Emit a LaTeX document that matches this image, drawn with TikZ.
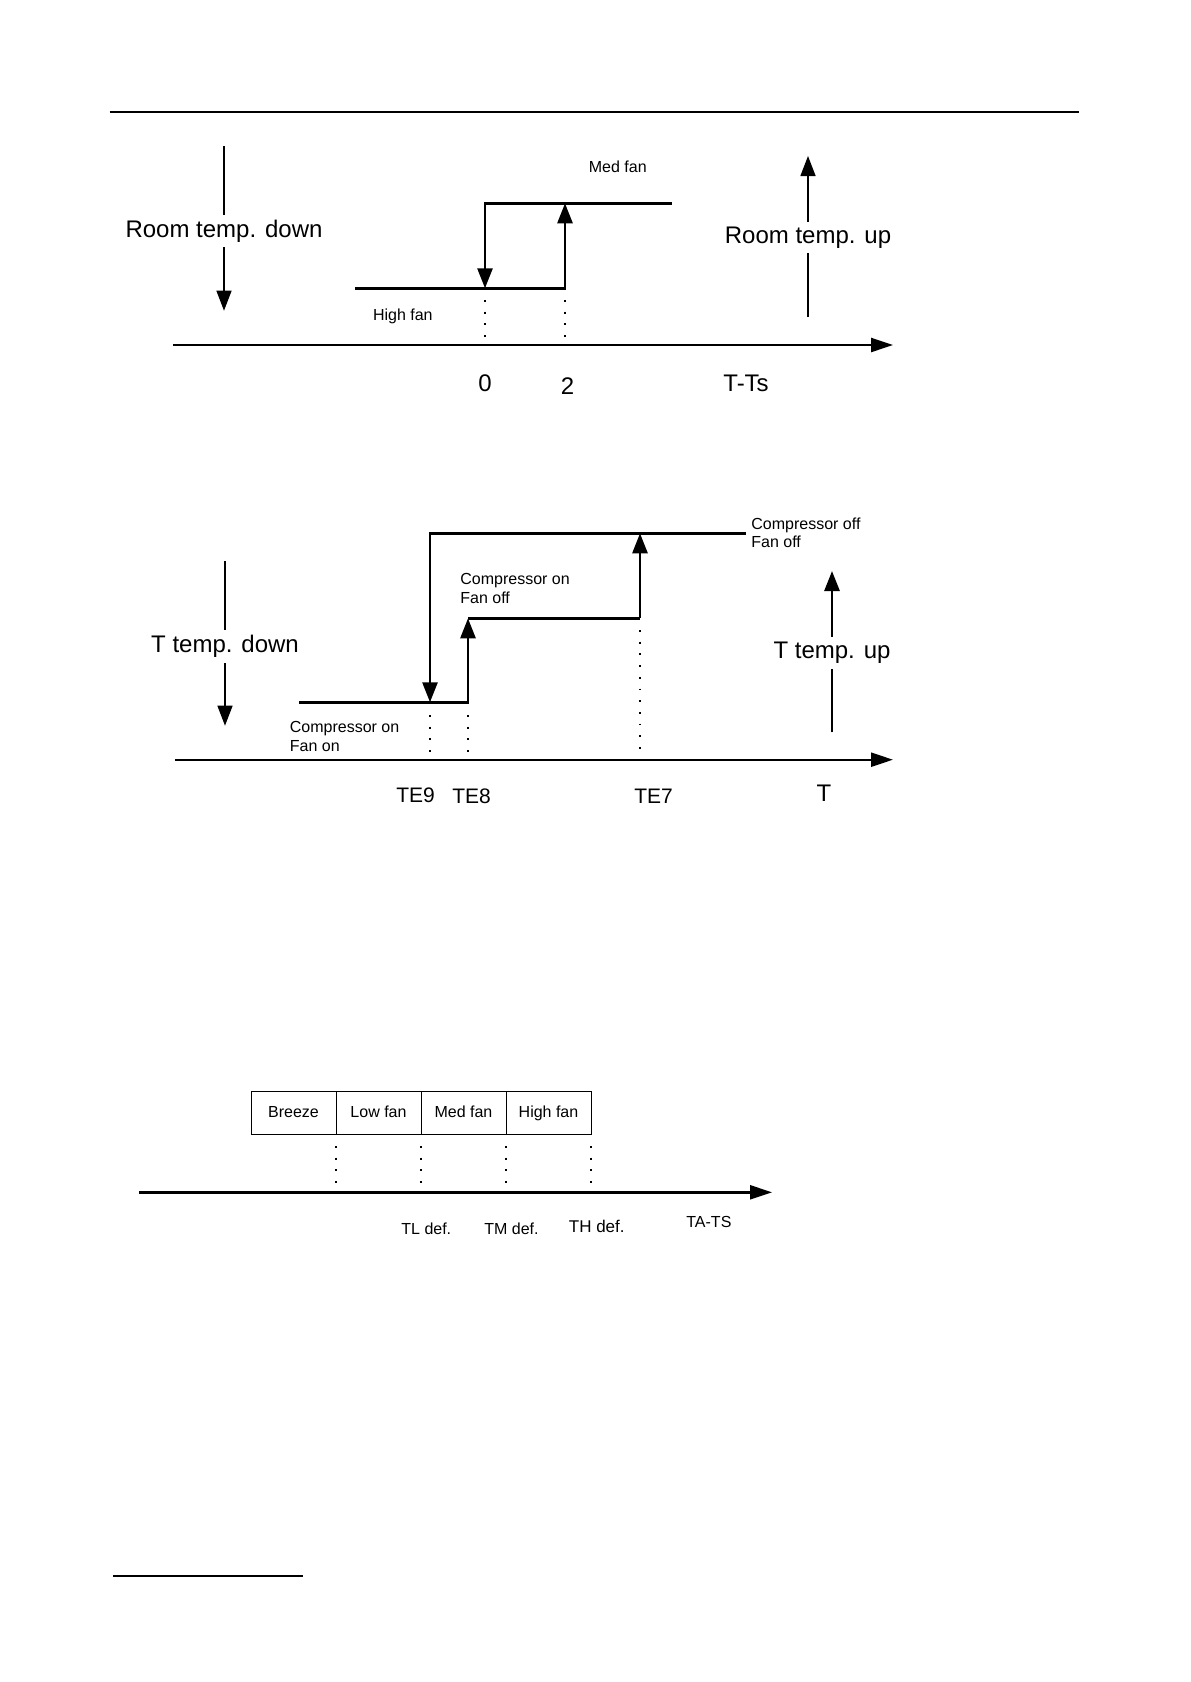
\documentclass[tikz,border=0pt]{standalone}
\usepackage{fontspec}
\setmainfont{Liberation Sans}
\usetikzlibrary{arrows.meta}
\begin{document}
\begin{tikzpicture}[x=0.5pt,y=-0.5pt,
  rule/.style={line width=1pt},
  stepline/.style={line width=1.3pt,line join=miter,-{Triangle[length=10pt,width=7.5pt]}},
  axisline/.style={line width=1.2pt,-{Triangle[length=11pt,width=7pt]}},
  thinarrow/.style={line width=0.7pt,-{Triangle[length=10pt,width=7.5pt]}},
  thickarrow/.style={line width=1.4pt,-{Triangle[length=10pt,width=7.5pt]}},
  dotline/.style={line width=1pt,dash pattern=on 0.9pt off 4.95pt},
  biglabel/.style={font=\fontsize{12}{14}\selectfont,fill=white,inner xsep=0pt,inner ysep=2.5pt},
  midlabel/.style={font=\fontsize{10.5}{12}\selectfont,inner sep=0pt},
  smalllabel/.style={font=\fontsize{8}{9.3}\selectfont,inner sep=0pt,align=left},
  fanbox/.style={draw,line width=0.5pt,minimum width=42.5pt,minimum height=21.5pt,inner sep=0pt,
    text height=6pt,text depth=1.6pt,font=\fontsize{8}{9.3}\selectfont}
]
\useasboundingbox (0,0) rectangle (1190,1682);

% rules
\coordinate (r1a) at (109.5,111.7);
\coordinate (r1b) at (1079,111.7);
\draw[rule] (r1a) -- (r1b);
\coordinate (r2a) at (113,1576);
\coordinate (r2b) at (303,1576);
\draw[rule] (r2a) -- (r2b);

% ---------------- Diagram 1 ----------------
\coordinate (d1ax0) at (173,345);
\coordinate (d1ax1) at (893,345);
\draw[axisline] (d1ax0) -- (d1ax1);

\coordinate (d1lowL) at (355,288.3);
\coordinate (d1lowR) at (565,288.3);
\coordinate (d1upL) at (485,203.3);
\coordinate (d1upR) at (672,203.3);
\coordinate (d1lowM) at (485,288.3);
\coordinate (d1upM) at (565,203.3);
\draw[stepline] (d1lowL) -- (d1lowR) -- (d1upM);
\draw[stepline] (d1upR) -- (d1upL) -- (d1lowM);

\draw[dotline] (485,300) -- (485,338);
\draw[dotline] (565,300) -- (565,338);

\coordinate (d1la) at (224,146);
\coordinate (d1lb) at (224,310.7);
\draw[thinarrow] (d1la) -- (d1lb);
\node[biglabel] (rtd) at (224,231) {Room temp. down};

\coordinate (d1ra) at (808,317);
\coordinate (d1rb) at (808,156);
\draw[thinarrow] (d1ra) -- (d1rb);
\node[biglabel] (rtu) at (808,237.5) {Room temp. up};

\node[smalllabel,anchor=west] (medfan) at (588.5,166.7) {Med fan};
\node[smalllabel,anchor=west] (highfan) at (372.6,316) {High fan};

\node[biglabel,fill=none] (n0) at (485,383) {0};
\node[biglabel,fill=none] (n2) at (567.6,386) {2};
\node[biglabel,fill=none,anchor=west] (tts) at (723,383) {T-Ts};

% ---------------- Diagram 2 ----------------
\coordinate (d2ax0) at (175,759.7);
\coordinate (d2ax1) at (893,759.7);
\draw[axisline] (d2ax0) -- (d2ax1);

\coordinate (d2topR) at (746,533.3);
\coordinate (d2topL) at (430,533.3);
\coordinate (d2te9) at (430,702.3);
\coordinate (d2lowL) at (299,702.3);
\coordinate (d2lowR) at (468,702.3);
\coordinate (d2midL) at (468,618.3);
\coordinate (d2midR) at (640,618.3);
\coordinate (d2te7) at (640,533.3);
\draw[stepline] (d2topR) -- (d2topL) -- (d2te9);
\draw[stepline] (d2lowL) -- (d2lowR) -- (d2midL);
\draw[stepline,-] (d2midL) -- (d2midR);
\draw[stepline] (d2midR) -- (d2te7);

\draw[dotline] (430,715) -- (430,753);
\draw[dotline] (468,715) -- (468,753);
\draw[dotline] (640,630) -- (640,753);

\coordinate (d2la) at (225,561);
\coordinate (d2lb) at (225,725.7);
\draw[thinarrow] (d2la) -- (d2lb);
\node[biglabel] (ttd) at (225,646.5) {T temp. down};

\coordinate (d2ra) at (832,732.3);
\coordinate (d2rb) at (832,571);
\draw[thickarrow] (d2ra) -- (d2rb);
\node[biglabel] (ttu) at (832,653) {T temp. up};

\node[smalllabel,anchor=west] (cofo) at (751,532.8) {Compressor off\\Fan off};
\node[smalllabel,anchor=west] (conf) at (460,588.2) {Compressor on\\Fan off};
\node[smalllabel,anchor=west] (conn) at (289.5,736.2) {Compressor on\\Fan on};

\node[midlabel,anchor=west] (te9) at (396,795) {TE9};
\node[midlabel,anchor=west] (te8) at (452,796) {TE8};
\node[midlabel,anchor=west] (te7) at (634,796) {TE7};
\node[biglabel,fill=none] (tt) at (824,793) {T};

% ---------------- Diagram 3 ----------------
\node[fanbox] (breeze) at (293.5,1112.8) {Breeze};
\node[fanbox] (low) at (378.5,1112.8) {Low fan};
\node[fanbox] (med) at (463.5,1112.8) {Med fan};
\node[fanbox] (high) at (548.5,1112.8) {High fan};

\draw[dotline] (336,1146) -- (336,1184);
\draw[dotline] (421,1146) -- (421,1184);
\draw[dotline] (506,1146) -- (506,1184);
\draw[dotline] (591,1146) -- (591,1184);

\coordinate (d3ax0) at (139,1192.3);
\coordinate (d3ax1) at (772,1192.3);
\draw[axisline] (d3ax0) -- (d3ax1);

\node[smalllabel,anchor=west] (tl) at (401,1229) {TL def.};
\node[smalllabel,anchor=west] (tm) at (484,1229) {TM def.};
\node[smalllabel,anchor=west,font=\fontsize{8.5}{10}\selectfont] (th) at (568.5,1226) {TH def.};
\node[smalllabel,anchor=west] (tats) at (686,1221.5) {TA-TS};
\end{tikzpicture}
\end{document}
